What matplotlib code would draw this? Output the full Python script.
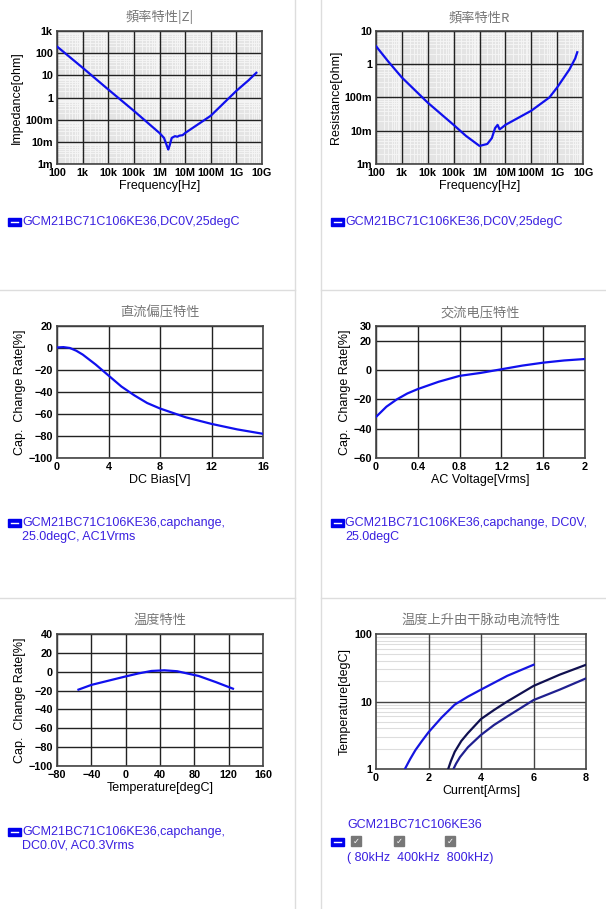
import numpy as np
from matplotlib import pyplot as plt
from matplotlib import font_manager
from matplotlib.patches import Rectangle
from matplotlib.lines import Line2D
from matplotlib.ticker import FixedLocator, NullFormatter, LogLocator

cjk_names = sorted({f.name for f in font_manager.fontManager.ttflist if 'CJK' in f.name})
CJK = next((n for n in cjk_names if 'SC' in n), cjk_names[0] if cjk_names else 'DejaVu Sans')
plt.rcParams['font.family'] = ['Liberation Sans', CJK]

# panel 1: |Z|
z_freq = [1e2, 1e3, 1e4, 1e5, 1e6, 1.5e6, 2e6, 2.2e6, 2.5e6, 3e6, 4e6, 5e6, 6e6, 8e6, 1e7, 1e8, 1e9, 3e9, 6e9]
z_val = [200, 22, 2.3, 0.25, 0.025, 0.015, 0.006, 0.0045, 0.007, 0.015, 0.018, 0.017, 0.019, 0.02, 0.025, 0.15, 2, 6, 13]
# panel 2: R
r_freq = [1e2, 3e2, 1e3, 1e4, 1e5, 3e5, 1e6, 2e6, 3e6, 4e6, 5e6, 6e6, 8e6, 1e7, 1e8, 5e8, 1e9, 3e9, 5e9, 6e9]
r_val = [3.5, 1.2, 0.4, 0.07, 0.015, 0.007, 0.0035, 0.004, 0.006, 0.012, 0.015, 0.011, 0.013, 0.015, 0.04, 0.1, 0.2, 0.7, 1.5, 2.3]
# panel 3: DC bias
dc_v = [0, 0.5, 1, 1.5, 2, 3, 4, 5, 6, 7, 8, 10, 12, 14, 16]
dc_rate = [0.5, 0.8, 0, -2.5, -6, -15, -25, -35, -43, -50, -55, -63, -69, -74, -78]
# panel 4: AC voltage
ac_v = [0, 0.1, 0.2, 0.3, 0.4, 0.6, 0.8, 1.0, 1.2, 1.4, 1.6, 1.8, 2.0]
ac_rate = [-32, -25, -20, -16, -13, -8, -4, -2, 0.5, 3, 5, 6.5, 7.5]
# panel 5: temperature
t_deg = [-55, -40, -20, 0, 15, 30, 45, 60, 75, 85, 105, 125]
t_rate = [-19, -14, -9.5, -5, -1.8, 0.8, 1.5, 0.5, -2.5, -4.5, -11, -18]
# panel 6: temperature rise
i80 = [1.1, 1.3, 1.5, 1.75, 2, 2.5, 3, 3.5, 4, 5, 6]
t80 = [1, 1.4, 1.9, 2.6, 3.5, 5.8, 9, 11.8, 15, 24, 35]
i400 = [2.75, 2.85, 3, 3.25, 3.5, 4, 4.5, 5, 6, 7, 8]
t400 = [1, 1.3, 1.8, 2.6, 3.4, 5.5, 7.5, 10, 17, 25, 35]
i800 = [2.95, 3.05, 3.2, 3.5, 4, 4.5, 5, 6, 7, 8]
t800 = [1, 1.2, 1.5, 2.1, 3.2, 4.5, 6, 10.5, 15, 22]

fig = plt.figure(figsize=(6.06, 9.09), dpi=100)
W, H = 606, 909

def ax_px(x0, y0, x1, y1):
    return fig.add_axes([x0 / W, 1 - y1 / H, (x1 - x0) / W, (y1 - y0) / H])

# panel borders
for x in [295, 321]:
    fig.add_artist(Line2D([x / W, x / W], [0, 1], color='#dddddd', lw=1))
for y in [290, 598]:
    fig.add_artist(Line2D([0, 295 / W], [1 - y / H] * 2, color='#dddddd', lw=1))
    fig.add_artist(Line2D([321 / W, 1], [1 - y / H] * 2, color='#dddddd', lw=1))

blue = '#1010ee'
txtc = '#3a20e0'
fs = 7.8

def style(ax, title, xl, yl):
    ax.set_title(title, fontsize=9.5, color='#777777', pad=7, fontfamily=CJK)
    ax.set_xlabel(xl, fontsize=9, labelpad=1)
    ax.set_ylabel(yl, fontsize=9, labelpad=2)
    ax.tick_params(labelsize=fs, length=0, pad=3)
    for s in ax.spines.values():
        s.set_color('#444444')
        s.set_linewidth(1.2)

def legend(y, lines, x=8):
    fig.add_artist(Rectangle((x / W, 1 - (y + 4) / H), 13 / W, 8 / H, color='#0000ee'))
    fig.add_artist(Line2D([(x + 3) / W, (x + 10) / W], [1 - y / H] * 2, color='white', lw=1))
    for k, t in enumerate(lines):
        fig.text((x + 14) / W, 1 - (y + 14 * k) / H, t, fontsize=9, color=txtc, va='center')

def logpanel(ax, fx, fy, title, yl, ydec):
    ax.set_facecolor('#e4e4e4')
    ax.loglog(fx, fy, color=blue, lw=1.6, zorder=3)
    ax.set_xlim(1e2, 1e10)
    ax.set_ylim(10.0 ** ydec[0], 10.0 ** ydec[-1])
    ax.xaxis.set_major_locator(FixedLocator([10 ** k for k in range(2, 11)]))
    ax.set_xticklabels(['100', '1k', '10k', '100k', '1M', '10M', '100M', '1G', '10G'])
    ax.xaxis.set_minor_locator(LogLocator(subs=np.arange(2, 10), numticks=20))
    ax.yaxis.set_minor_locator(LogLocator(subs=np.arange(2, 10), numticks=20))
    ax.xaxis.set_minor_formatter(NullFormatter())
    ax.yaxis.set_minor_formatter(NullFormatter())
    ax.grid(True, which='minor', color='#f6f6f6', lw=0.6)
    ax.grid(False, which='major')
    for k in range(2, 11):
        ax.axvline(10.0 ** k, color='#222222', lw=1, zorder=2)
    for k in ydec:
        ax.axhline(10.0 ** k, color='#222222', lw=1, zorder=2)
    ax.tick_params(which='minor', length=0)
    style(ax, title, 'Frequency[Hz]', yl)
    for lab in ax.get_xticklabels():
        lab.set_fontweight('bold')

ax1 = ax_px(57, 31, 262, 164)
logpanel(ax1, z_freq, z_val, '頻率特性|Z|', 'Impedance[ohm]', list(range(-3, 4)))
ax1.set_yticks([10.0 ** k for k in range(-3, 4)])
ax1.set_yticklabels(['1m', '10m', '100m', '1', '10', '100', '1k'], fontweight='bold')
legend(222, ['GCM21BC71C106KE36,DC0V,25degC'])

ax2 = ax_px(376, 31, 583, 164)
logpanel(ax2, r_freq, r_val, '頻率特性R', 'Resistance[ohm]', list(range(-3, 2)))
ax2.set_yticks([10.0 ** k for k in range(-3, 2)])
ax2.set_yticklabels(['1m', '10m', '100m', '1', '10'], fontweight='bold')
legend(222, ['GCM21BC71C106KE36,DC0V,25degC'], x=331)

def linpanel(ax, x, y, title, xl, xlim, xt, ylim, yt):
    ax.plot(x, y, color=blue, lw=1.6, zorder=3)
    ax.set_xlim(*xlim)
    ax.set_ylim(*ylim)
    ax.set_xticks(xt)
    ax.set_yticks(yt)
    ax.grid(True, color='#222222', lw=1)
    style(ax, title, xl, 'Cap.  Change Rate[%]')
    for lab in ax.get_xticklabels() + ax.get_yticklabels():
        lab.set_fontweight('bold')

ax3 = ax_px(57, 326, 263, 458)
linpanel(ax3, dc_v, dc_rate, '直流偏压特性', 'DC Bias[V]', (0, 16), [0, 4, 8, 12, 16],
         (-100, 20), list(range(-100, 21, 20)))
legend(523, ['GCM21BC71C106KE36,capchange,', '25.0degC, AC1Vrms'])

ax4 = ax_px(376, 326, 585, 458)
linpanel(ax4, ac_v, ac_rate, '交流电压特性', 'AC Voltage[Vrms]', (0, 2), [0, 0.4, 0.8, 1.2, 1.6, 2],
         (-60, 30), [-60, -40, -20, 0, 20, 30])
ax4.set_xticklabels(['0', '0.4', '0.8', '1.2', '1.6', '2'], fontweight='bold')
legend(523, ['GCM21BC71C106KE36,capchange, DC0V,', '25.0degC'], x=331)

ax5 = ax_px(57, 634, 263, 766)
linpanel(ax5, t_deg, t_rate, '温度特性', 'Temperature[degC]', (-80, 160), list(range(-80, 161, 40)),
         (-100, 40), list(range(-100, 41, 20)))
legend(832, ['GCM21BC71C106KE36,capchange,', 'DC0.0V, AC0.3Vrms'])

ax6 = ax_px(376, 634, 586, 769)
ax6.semilogy(i80, t80, color='#1515e0', lw=1.6, zorder=3)
ax6.semilogy(i400, t400, color='#101050', lw=1.6, zorder=3)
ax6.semilogy(i800, t800, color='#202090', lw=1.6, zorder=3)
ax6.set_xlim(0, 8)
ax6.set_ylim(1, 100)
ax6.set_xticks([0, 2, 4, 6, 8])
ax6.set_yticks([1, 10, 100])
ax6.set_yticklabels(['1', '10', '100'])
ax6.yaxis.set_minor_locator(LogLocator(subs=np.arange(2, 10), numticks=10))
ax6.yaxis.set_minor_formatter(NullFormatter())
ax6.grid(True, which='minor', axis='y', color='#dddddd', lw=0.8)
ax6.grid(False, which='major')
for v in [2, 4, 6]:
    ax6.axvline(v, color='#444444', lw=1, zorder=2)
ax6.axhline(10, color='#444444', lw=1, zorder=2)
ax6.tick_params(which='minor', length=0)
style(ax6, '温度上升由干脉动电流特性', 'Current[Arms]', 'Temperature[degC]')
for lab in ax6.get_xticklabels() + ax6.get_yticklabels():
    lab.set_fontweight('bold')

fig.text(347 / W, 1 - 825 / H, 'GCM21BC71C106KE36', fontsize=9, color=txtc, va='center')
fig.add_artist(Rectangle((331 / W, 1 - 846 / H), 13 / W, 8 / H, color='#0000ee'))
fig.add_artist(Line2D([334 / W, 341 / W], [1 - 842 / H] * 2, color='white', lw=1))
for cx in [351, 394, 445]:
    fig.add_artist(Rectangle((cx / W, 1 - 846 / H), 10 / W, 10 / H, color='#777777'))
    fig.text((cx + 5) / W, 1 - 841 / H, '✓', fontsize=6, color='white', ha='center', va='center',
             fontfamily='DejaVu Sans')
fig.text(347 / W, 1 - 858 / H, '( 80kHz  400kHz  800kHz)', fontsize=9, color=txtc, va='center')

fig.savefig('out.png', dpi=100)
